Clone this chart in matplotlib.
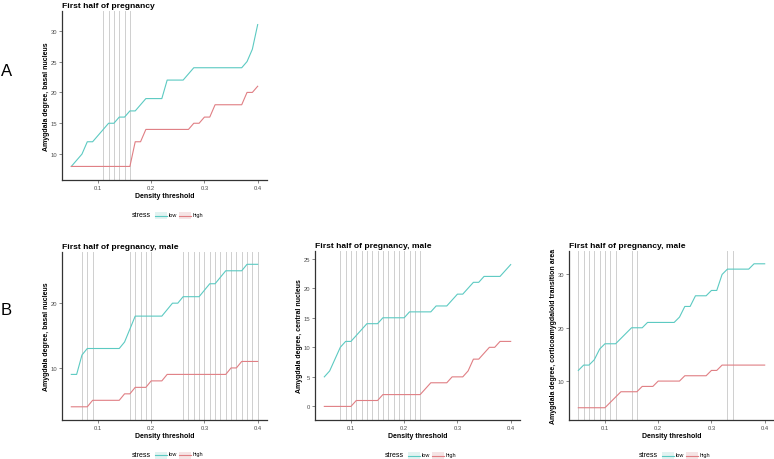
import matplotlib
matplotlib.use("Agg")
import matplotlib.pyplot as plt
from matplotlib.lines import Line2D
from matplotlib.patches import Rectangle

plt.rcParams["font.family"] = ["Liberation Sans", "DejaVu Sans"]

# density thresholds (x axis, shared by all panels)
thresholds = [0.05, 0.06, 0.07, 0.08, 0.09, 0.10, 0.11, 0.12, 0.13, 0.14, 0.15, 0.16,
              0.17, 0.18, 0.19, 0.20, 0.21, 0.22, 0.23, 0.24, 0.25, 0.26, 0.27, 0.28,
              0.29, 0.30, 0.31, 0.32, 0.33, 0.34, 0.35, 0.36, 0.37, 0.38, 0.39, 0.40]

# panel A: first half of pregnancy, basal nucleus
a_low = [8, 9, 10, 12, 12, 13, 14, 15, 15, 16, 16, 17, 17, 18, 19, 19, 19, 19,
         22, 22, 22, 22, 23, 24, 24, 24, 24, 24, 24, 24, 24, 24, 24, 25, 27, 31]
a_high = [8, 8, 8, 8, 8, 8, 8, 8, 8, 8, 8, 8, 12, 12, 14, 14, 14, 14,
          14, 14, 14, 14, 14, 15, 15, 16, 16, 18, 18, 18, 18, 18, 18, 20, 20, 21]
a_sig = [0.11, 0.12, 0.13, 0.14, 0.15, 0.16]

# panel B1: male, basal nucleus
b1_low = [9, 9, 12, 13, 13, 13, 13, 13, 13, 13, 14, 16, 18, 18, 18, 18, 18, 18,
          19, 20, 20, 21, 21, 21, 21, 22, 23, 23, 24, 25, 25, 25, 25, 26, 26, 26]
b1_high = [4, 4, 4, 4, 5, 5, 5, 5, 5, 5, 6, 6, 7, 7, 7, 8, 8, 8,
           9, 9, 9, 9, 9, 9, 9, 9, 9, 9, 9, 9, 10, 10, 11, 11, 11, 11]
b1_sig = [0.07, 0.08, 0.09, 0.16, 0.17, 0.18, 0.19, 0.20,
          0.26, 0.27, 0.28, 0.29, 0.30, 0.31, 0.32, 0.33, 0.34, 0.35, 0.36,
          0.37, 0.38, 0.39, 0.40]

# panel B2: male, central nucleus
b2_low = [5, 6, 8, 10, 11, 11, 12, 13, 14, 14, 14, 15, 15, 15, 15, 15, 16, 16,
          16, 16, 16, 17, 17, 17, 18, 19, 19, 20, 21, 21, 22, 22, 22, 22, 23, 24]
b2_high = [0, 0, 0, 0, 0, 0, 1, 1, 1, 1, 1, 2, 2, 2, 2, 2, 2, 2,
           2, 3, 4, 4, 4, 4, 5, 5, 5, 6, 8, 8, 9, 10, 10, 11, 11, 11]
b2_sig = [0.08, 0.09, 0.10, 0.11, 0.12, 0.13, 0.14, 0.15, 0.16, 0.17,
          0.18, 0.19, 0.20, 0.21, 0.22, 0.23]

# panel B3: male, corticoamygdaloid transition area
b3_low = [12, 13, 13, 14, 16, 17, 17, 17, 18, 19, 20, 20, 20, 21, 21, 21, 21, 21,
          21, 22, 24, 24, 26, 26, 26, 27, 27, 30, 31, 31, 31, 31, 31, 32, 32, 32]
b3_high = [5, 5, 5, 5, 5, 5, 6, 7, 8, 8, 8, 8, 9, 9, 9, 10, 10, 10,
           10, 10, 11, 11, 11, 11, 11, 12, 12, 13, 13, 13, 13, 13, 13, 13, 13, 13]
b3_sig = [0.05, 0.06, 0.07, 0.08, 0.09, 0.10, 0.11, 0.12, 0.15, 0.16, 0.33, 0.34]

COL_LOW = "#5ccac2"
COL_HIGH = "#e07f84"
W, H = 774, 460

fig = plt.figure(figsize=(W / 100, H / 100), dpi=100)


class KeyHandler:
    """ggplot-like legend key: tinted box with the line across it"""
    def __init__(self, fill, dy=-1.3):
        self.fill = fill
        self.dy = dy

    def legend_artist(self, legend, orig_handle, fontsize, handlebox):
        x0, y0 = handlebox.xdescent, handlebox.ydescent
        w, h = handlebox.width, handlebox.height
        tr = handlebox.get_transform()
        rect = Rectangle((-x0, -y0 + self.dy), w, h, facecolor=self.fill,
                         edgecolor="none", transform=tr)
        line = Line2D([-x0, -x0 + w], [-y0 + self.dy + h / 2] * 2,
                      color=orig_handle.get_color(), lw=0.8, transform=tr)
        handlebox.add_artist(rect)
        handlebox.add_artist(line)
        return line


def px_axes(left, top, right, bottom):
    return fig.add_axes([left / W, 1 - bottom / H, (right - left) / W, (bottom - top) / H])


def draw_panel(ax, low, high, sig, title, ylabel, ylim, yticks):
    for x in sig:
        ax.axvline(x, color="#cfcfcf", lw=0.7, zorder=1)
    l_low, = ax.plot(thresholds, low, color=COL_LOW, lw=0.8, zorder=3)
    l_high, = ax.plot(thresholds, high, color=COL_HIGH, lw=0.8, zorder=3)
    ax.set_xlim(0.0325, 0.4175)
    ax.set_ylim(*ylim)
    ax.set_xticks([0.1, 0.2, 0.3, 0.4])
    ax.set_xticklabels(["0.1", "0.2", "0.3", "0.4"])
    ax.set_yticks(yticks)
    for s in ["top", "right"]:
        ax.spines[s].set_visible(False)
    for s in ["left", "bottom"]:
        ax.spines[s].set_color("#333333")
        ax.spines[s].set_linewidth(0.9)
    ax.tick_params(length=2, width=0.5, color="#555555", labelsize=4.2,
                   labelcolor="#4d4d4d", pad=1.5)
    ax.set_title(title, loc="left", fontsize=6.1, fontweight="bold", pad=3)
    ax.set_xlabel("Density threshold", fontsize=5, fontweight="bold", labelpad=1.5)
    ax.set_ylabel(ylabel, fontsize=5, fontweight="bold", labelpad=0.5)

    leg = ax.legend([l_low, l_high], ["low", "high"], ncol=2, loc="center",
                    bbox_to_anchor=(0.57, -0.2), frameon=False, fontsize=4,
                    handlelength=2.1, handleheight=1.4, handletextpad=0.3,
                    columnspacing=0.4, borderpad=0,
                    handler_map={l_low: KeyHandler("#e2f3f1"),
                                 l_high: KeyHandler("#f5e4e5")})
    ax.annotate("stress", xy=(0, 0.5), xycoords=leg, xytext=(-3, -0.8),
                textcoords="offset points", ha="right", va="center", fontsize=5)


axA = px_axes(62, 12, 267, 181)
draw_panel(axA, a_low, a_high, a_sig, "First half of pregnancy",
           "Amygdala degree, basal nucleus", (5.8, 33.2), [10, 15, 20, 25, 30])

axB1 = px_axes(62, 253, 267, 421)
draw_panel(axB1, b1_low, b1_high, b1_sig, "First half of pregnancy, male",
           "Amygdala degree, basal nucleus", (1.96, 27.9), [10, 20])

axB2 = px_axes(315, 252, 520, 421)
draw_panel(axB2, b2_low, b2_high, b2_sig, "First half of pregnancy, male",
           "Amygdala degree, central nucleus", (-2.3, 26.3), [0, 5, 10, 15, 20, 25])

axB3 = px_axes(569, 252, 774, 421)
draw_panel(axB3, b3_low, b3_high, b3_sig, "First half of pregnancy, male",
           "Amygdala degree, corticoamygdaloid transition area", (2.7, 34.4), [10, 20, 30])

fig.text(1 / W, 1 - 71 / H, "A", fontsize=12, ha="left", va="center")
fig.text(1 / W, 1 - 311 / H, "B", fontsize=12, ha="left", va="center")

fig.savefig("out.png", dpi=100)
